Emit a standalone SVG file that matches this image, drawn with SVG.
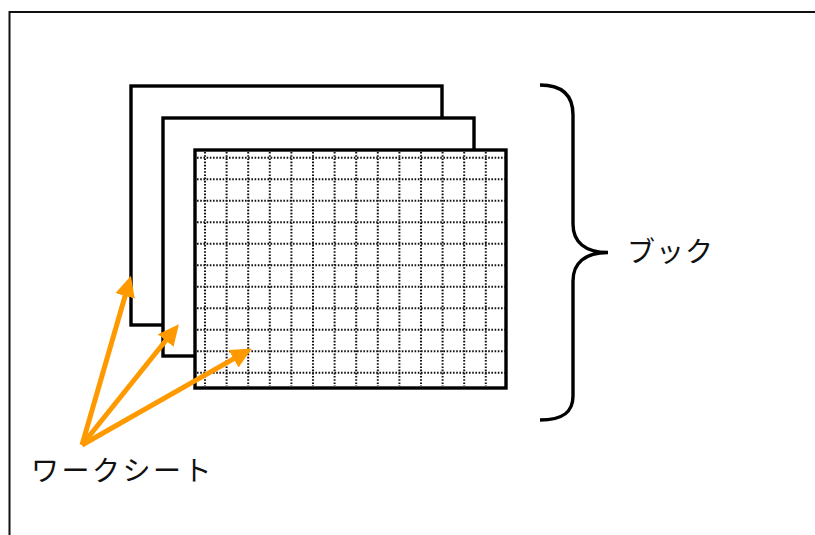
<svg xmlns="http://www.w3.org/2000/svg" width="815" height="535" viewBox="0 0 815 535">
<defs>
<style>
.sheet{fill:#fff;stroke:#000;stroke-width:3.4}
.grid line{stroke:#111;stroke-width:2;stroke-dasharray:1.6 1.6}
.arrow{stroke:#FF9900;stroke-width:5;fill:none;marker-end:url(#ah)}
.label{font-family:"Noto Sans CJK JP","Noto Sans",sans-serif;font-size:28px;font-weight:normal;fill:#111}
</style>
<marker id="ah" markerUnits="userSpaceOnUse" markerWidth="22" markerHeight="20" refX="10" refY="10" orient="auto">
<path d="M0,0 L21,10 L0,20 z" fill="#FF9900"/>
</marker>
</defs>
<rect width="815" height="535" fill="#fff"/>
<path id="frame" d="M9.5,535 L9.5,12 L815,12" fill="none" stroke="#111" stroke-width="2"/>
<g id="sheet1"><rect class="sheet" x="131" y="86" width="311" height="239"/></g>
<g id="sheet2"><rect class="sheet" x="163" y="118" width="311" height="238"/></g>
<g id="sheet3">
<rect class="sheet" x="195" y="150" width="311" height="238"/>
<g class="grid">
<line x1="205" y1="152" x2="205" y2="386"/>
<line x1="226.6" y1="152" x2="226.6" y2="386"/>
<line x1="248.2" y1="152" x2="248.2" y2="386"/>
<line x1="269.8" y1="152" x2="269.8" y2="386"/>
<line x1="291.4" y1="152" x2="291.4" y2="386"/>
<line x1="313" y1="152" x2="313" y2="386"/>
<line x1="334.6" y1="152" x2="334.6" y2="386"/>
<line x1="356.2" y1="152" x2="356.2" y2="386"/>
<line x1="377.8" y1="152" x2="377.8" y2="386"/>
<line x1="399.4" y1="152" x2="399.4" y2="386"/>
<line x1="421" y1="152" x2="421" y2="386"/>
<line x1="442.6" y1="152" x2="442.6" y2="386"/>
<line x1="464.2" y1="152" x2="464.2" y2="386"/>
<line x1="485.8" y1="152" x2="485.8" y2="386"/>
<line x1="197" y1="157.7" x2="505" y2="157.7"/>
<line x1="197" y1="179.2" x2="505" y2="179.2"/>
<line x1="197" y1="200.7" x2="505" y2="200.7"/>
<line x1="197" y1="222.2" x2="505" y2="222.2"/>
<line x1="197" y1="243.7" x2="505" y2="243.7"/>
<line x1="197" y1="265.2" x2="505" y2="265.2"/>
<line x1="197" y1="286.7" x2="505" y2="286.7"/>
<line x1="197" y1="308.2" x2="505" y2="308.2"/>
<line x1="197" y1="329.7" x2="505" y2="329.7"/>
<line x1="197" y1="351.2" x2="505" y2="351.2"/>
<line x1="197" y1="372.7" x2="505" y2="372.7"/>
</g>
</g>
<g id="book-brace">
<path d="M540,85 C563,85 573,96 573,115 L573,224 C573,242 585,252.5 608,252.5 C585,252.5 573,263 573,281 L573,396 C573,412 563,420 540,420" fill="none" stroke="#000" stroke-width="3.4"/>
<text class="label" x="627" y="262" letter-spacing="1">ブック</text>
</g>
<g id="connectors">
<line class="arrow" x1="82" y1="445" x2="127.9" y2="286.3"/>
<line class="arrow" x1="82" y1="445" x2="172" y2="332.8"/>
<line class="arrow" x1="82" y1="445" x2="242.3" y2="353.9"/>
</g>
<g id="worksheet-label">
<text class="label" x="31" y="481" letter-spacing="2.5">ワークシート</text>
</g>
</svg>
